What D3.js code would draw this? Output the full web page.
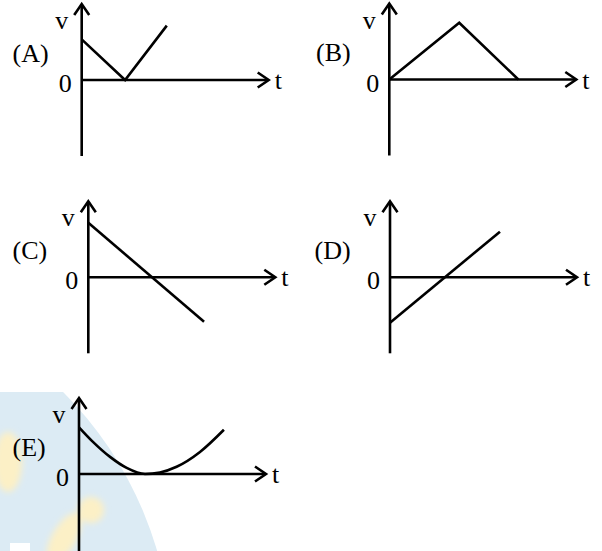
<!DOCTYPE html>
<html>
<head>
<meta charset="utf-8">
<script src="https://cdn.jsdelivr.net/npm/d3@7"></script>
<style>
  html, body { margin: 0; padding: 0; background: #fff; }
  svg { display: block; }
</style>
</head>
<body>
<script>
// ---- data ----
const panelIds = ["A", "B", "C", "D", "E"];
const tA = [0, 2.32, 4.55];
const vA = [2.14, 0, 2.86];
const tB = [0, 3.74, 6.9];
const vB = [0, 2.99, 0];
const tC = [0, 6.19];
const vC = [2.87, -2.34];
const tD = [0, 5.88];
const vD = [-2.39, 2.4];
const tE = [0, 0.76, 1.66, 2.55, 3.53, 4.33, 5.22, 6.47, 7.75];
const vE = [2.46, 1.68, 0.90, 0.32, 0.0, 0.08, 0.38, 1.16, 2.33];
const tDomain = [0, 10];
const vDomain = [-4, 4];
const vLabel = "v";
const tLabel = "t";
const zeroLabel = "0";

const seriesT = [tA, tB, tC, tD, tE];
const seriesV = [vA, vB, vC, vD, vE];

// ---- layout ----
const W = 602, H = 551;
const origins = [[81.7, 80], [389.3, 79.5], [88.3, 277.3], [390, 277.3], [79, 474]];
const labelX = [12.5, 316, 12.5, 314.5, 12.5];
const font = "'Liberation Serif', 'DejaVu Serif', serif";
const fs = 26;
const sw = 2.6;

const svg = d3.select("body").append("svg").attr("width", W).attr("height", H);

// faint watermark behind the last panel
const defs = svg.append("defs");
defs.append("clipPath").attr("id", "wmclip")
  .append("rect").attr("x", 0).attr("y", 392).attr("width", W).attr("height", H - 392);
defs.append("filter").attr("id", "soft")
  .append("feGaussianBlur").attr("stdDeviation", 3);
const wm = svg.append("g").attr("clip-path", "url(#wmclip)");
wm.append("circle").attr("cx", -200).attr("cy", 655).attr("r", 372).attr("fill", "#dcebf4");
const wmy = wm.append("g").attr("filter", "url(#soft)");
wmy.append("ellipse").attr("cx", 8).attr("cy", 462).attr("rx", 14).attr("ry", 30).attr("fill", "#fcf0c6");
wmy.append("circle").attr("cx", 91).attr("cy", 510).attr("r", 13).attr("fill", "#fcf0c6");
wmy.append("ellipse").attr("cx", 0).attr("cy", 0).attr("rx", 12).attr("ry", 28)
  .attr("transform", "translate(64,538) rotate(30)").attr("fill", "#fcf0c6");
wm.append("rect").attr("x", 10).attr("y", 543).attr("width", 20).attr("height", 10).attr("fill", "#ffffff");

panelIds.forEach((id, i) => {
  const [ox, oy] = origins[i];
  const g = svg.append("g").attr("transform", `translate(${ox},${oy})`);
  const x = d3.scaleLinear().domain(tDomain).range([0, 187]);
  const y = d3.scaleLinear().domain(vDomain).range([76, -76]);

  const bottom = id === "E" ? y(-5) : y(vDomain[0]);
  // vertical axis
  g.append("line").attr("x1", x(0)).attr("x2", x(0))
    .attr("y1", bottom).attr("y2", y(vDomain[1]) + 1)
    .attr("stroke", "#000").attr("stroke-width", sw);
  g.append("path")
    .attr("d", `M${x(0) - 7.5},${y(vDomain[1]) + 11} L${x(0)},${y(vDomain[1])} L${x(0) + 7.5},${y(vDomain[1]) + 11}`)
    .attr("fill", "none").attr("stroke", "#000").attr("stroke-width", sw).attr("stroke-linejoin", "miter");
  // horizontal axis
  g.append("line").attr("x1", x(0)).attr("x2", x(tDomain[1]) - 1)
    .attr("y1", y(0)).attr("y2", y(0))
    .attr("stroke", "#000").attr("stroke-width", sw);
  g.append("path")
    .attr("d", `M${x(tDomain[1]) - 11},${y(0) - 7.5} L${x(tDomain[1])},${y(0)} L${x(tDomain[1]) - 11},${y(0) + 7.5}`)
    .attr("fill", "none").attr("stroke", "#000").attr("stroke-width", sw).attr("stroke-linejoin", "miter");

  // series
  const pts = seriesT[i].map((t, k) => [t, seriesV[i][k]]);
  const line = d3.line().x(d => x(d[0])).y(d => y(d[1]))
    .curve(id === "E" ? d3.curveMonotoneX : d3.curveLinear);
  g.append("path").attr("d", line(pts))
    .attr("fill", "none").attr("stroke", "#000").attr("stroke-width", sw)
    .attr("stroke-linejoin", "miter");

  // texts
  const txt = (s, tx, ty, anchor) => g.append("text").text(s)
    .attr("x", tx).attr("y", ty).attr("text-anchor", anchor)
    .attr("font-family", font).attr("font-size", fs).attr("fill", "#000");
  txt(vLabel, -20, -51, "middle");
  txt(zeroLabel, -10, 12, "end");
  txt(tLabel, x(tDomain[1]) + 6, 9, "start");
  txt(`(${id})`, labelX[i] - ox, -18.5, "start");
});
</script>
</body>
</html>
